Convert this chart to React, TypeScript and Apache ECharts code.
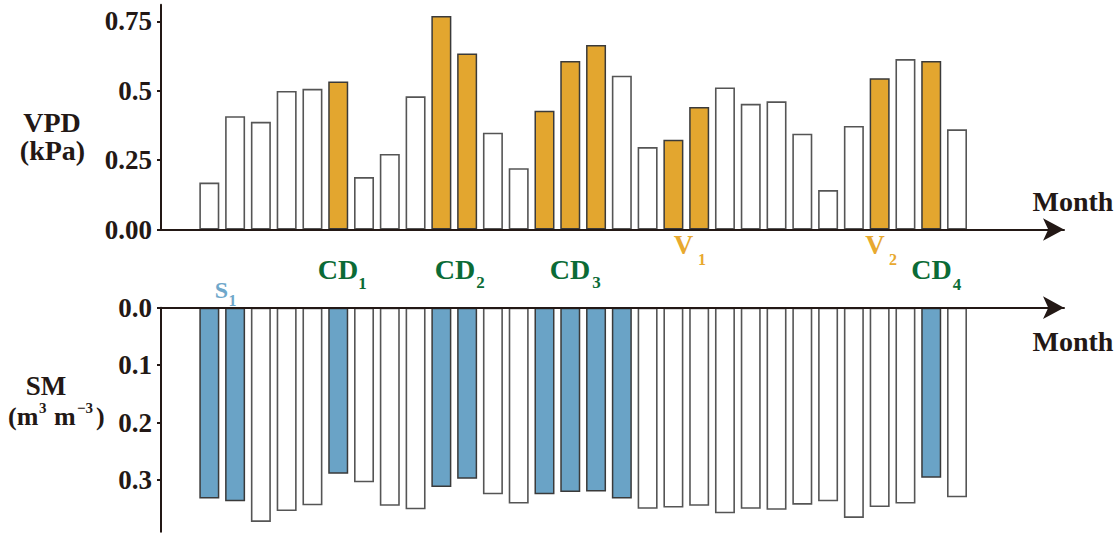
import React, { useEffect, useRef } from 'react';
import * as echarts from 'echarts';

const months = [1, 2, 3, 4, 5, 6, 7, 8, 9, 10, 11, 12, 13, 14, 15, 16, 17, 18, 19, 20, 21, 22, 23, 24, 25, 26, 27, 28, 29, 30];
const vpd = [0.169, 0.408, 0.388, 0.499, 0.507, 0.533, 0.189, 0.272, 0.48, 0.769, 0.634, 0.349, 0.221, 0.428, 0.607, 0.665, 0.554, 0.297, 0.323, 0.441, 0.512, 0.453, 0.462, 0.345, 0.142, 0.373, 0.545, 0.614, 0.607, 0.361];
const sm = [0.332, 0.337, 0.373, 0.354, 0.344, 0.289, 0.304, 0.345, 0.351, 0.312, 0.298, 0.325, 0.341, 0.325, 0.321, 0.32, 0.332, 0.35, 0.348, 0.345, 0.358, 0.35, 0.352, 0.343, 0.337, 0.366, 0.347, 0.341, 0.296, 0.33];
const vpdHighlight = [6, 10, 11, 14, 15, 16, 19, 20, 27, 29];
const smHighlight = [1, 2, 6, 10, 11, 14, 15, 16, 17, 29];
const vpdTicks = [0, 0.25, 0.5, 0.75];
const vpdTickLabels = ['0.00', '0.25', '0.5', '0.75'];
const smTicks = [0, 0.1, 0.2, 0.3];
const smTickLabels = ['0.0', '0.1', '0.2', '0.3'];

const AX = '#231815';
const ORANGE = '#e3a62f';
const BLUE = '#6aa3c6';
const GREEN = '#0b6b36';
const VCOL = '#e8a92f';
const SCOL = '#6fa7ca';
const FONT = '"Liberation Serif", "Times New Roman", serif';

function lookup(ticks: number[], labels: string[]) {
  return (v: number) => {
    const i = ticks.findIndex((t) => Math.abs(t - v) < 1e-6);
    return i >= 0 ? labels[i] : '';
  };
}

function txt(text: string, x: number, y: number, size: number, fill: string = AX, lineHeight?: number, align: string = 'center') {
  return {
    type: 'text',
    x,
    y,
    silent: true,
    style: {
      text,
      fill,
      font: `bold ${size}px ${FONT}`,
      lineHeight: lineHeight ?? size,
      textAlign: align,
      textVerticalAlign: 'middle',
    },
  };
}

export default function App() {
  const ref = useRef<HTMLDivElement>(null);
  useEffect(() => {
    if (!ref.current) return;
    const chart = echarts.init(ref.current, undefined, { renderer: 'svg' });
    const axisLineStyle = { color: AX, width: 2 };
    const xAxisBase = {
      type: 'value',
      min: -0.874,
      max: 34.15,
      z: 5,
      axisLine: { show: true, onZero: false, lineStyle: axisLineStyle, symbol: ['none', 'arrow'], symbolSize: [17, 21] },
      axisTick: { show: false },
      axisLabel: { show: false },
      splitLine: { show: false },
    };
    const labelStyle = { fontSize: 27, fontWeight: 'bold', fontFamily: FONT, color: AX, margin: 9 };
    const whiteStyle = { color: '#ffffff', borderColor: '#555555', borderWidth: 1.6 };
    const option = {
      animation: false,
      grid: [
        { left: 161, right: 55, top: 4.7, bottom: 307.5, outerBoundsMode: 'none' },
        { left: 161, right: 55, top: 307.7, bottom: 5.3, outerBoundsMode: 'none' },
      ],
      xAxis: [
        { ...xAxisBase, gridIndex: 0, position: 'bottom' },
        { ...xAxisBase, gridIndex: 1, position: 'top' },
      ],
      yAxis: [
        {
          type: 'value',
          gridIndex: 0,
          min: 0,
          max: 0.81,
          interval: 0.25,
          z: 5,
          axisLine: { show: true, onZero: false, lineStyle: axisLineStyle },
          axisTick: { show: true, length: 4, lineStyle: axisLineStyle, customValues: vpdTicks },
          axisLabel: { ...labelStyle, customValues: vpdTicks, formatter: lookup(vpdTicks, vpdTickLabels) },
          splitLine: { show: false },
        },
        {
          type: 'value',
          gridIndex: 1,
          inverse: true,
          min: 0,
          max: 0.39,
          interval: 0.1,
          z: 5,
          axisLine: { show: true, onZero: false, lineStyle: axisLineStyle },
          axisTick: { show: true, length: 4, lineStyle: axisLineStyle, customValues: smTicks },
          axisLabel: { ...labelStyle, customValues: smTicks, formatter: lookup(smTicks, smTickLabels) },
          splitLine: { show: false },
        },
      ],
      series: [
        {
          type: 'bar',
          xAxisIndex: 0,
          yAxisIndex: 0,
          barWidth: 20,
          data: months.map((m, i) => ({
            value: [m, vpd[i]],
            itemStyle: vpdHighlight.includes(m) ? { color: ORANGE, borderColor: '#3a3a3a', borderWidth: 1.5 } : whiteStyle,
          })),
        },
        {
          type: 'bar',
          xAxisIndex: 1,
          yAxisIndex: 1,
          barWidth: 20,
          data: months.map((m, i) => ({
            value: [m, sm[i]],
            itemStyle: smHighlight.includes(m) ? { color: BLUE, borderColor: '#3a3a3a', borderWidth: 1.5 } : whiteStyle,
          })),
        },
      ],
      graphic: [
        txt('VPD', 52, 122, 28, AX, 24),
        txt('(kPa)', 52.5, 150, 28, AX, 26),
        txt('SM', 46, 386, 27, AX, 20),
        txt('(m', 8, 416, 26, AX, 22, 'left'),
        txt('3', 39, 407.5, 15, AX, 11, 'left'),
        txt('m', 54, 416, 26, AX, 22, 'left'),
        txt('\u22123', 77, 407.5, 15, AX, 11, 'left'),
        txt(')', 96, 416, 26, AX, 22, 'left'),
        txt('Month', 1073, 201, 28, AX, 24),
        txt('Month', 1073, 341, 28, AX, 24),
        txt('S', 221.5, 290, 24, SCOL, 18),
        txt('1', 232.5, 300, 16, SCOL, 12),
        txt('CD', 338, 269, 28, GREEN, 22),
        txt('1', 362.5, 283, 17, GREEN, 12),
        txt('CD', 455, 269, 28, GREEN, 22),
        txt('2', 480.5, 282.5, 17, GREEN, 12),
        txt('CD', 570, 269, 28, GREEN, 22),
        txt('3', 596.5, 282.5, 17, GREEN, 12),
        txt('CD', 931.5, 269, 28, GREEN, 22),
        txt('4', 957, 284, 17, GREEN, 12),
        txt('V', 683.5, 245, 27, VCOL, 22),
        txt('1', 702, 259, 16, VCOL, 12),
        txt('V', 875, 245, 27, VCOL, 22),
        txt('2', 893, 259.5, 16, VCOL, 12),
      ],
    };
    chart.setOption(option as any);
    return () => chart.dispose();
  }, []);
  return (
    <div
      ref={ref}
      style={{ position: 'fixed', left: 0, top: 0, width: 1119, height: 537, background: '#ffffff' }}
    />
  );
}
